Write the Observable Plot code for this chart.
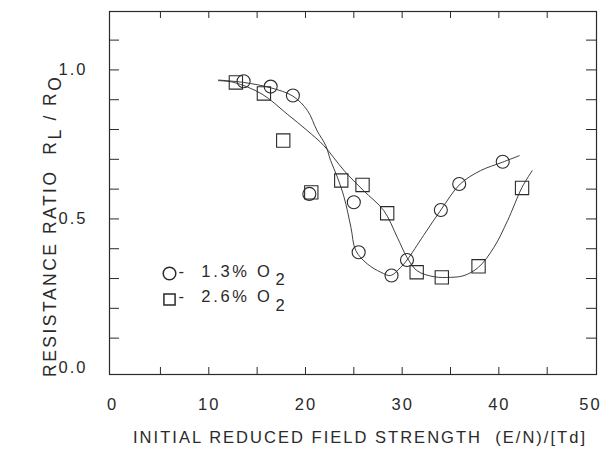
<!DOCTYPE html>
<html><head><meta charset="utf-8">
<script src="https://cdn.jsdelivr.net/npm/d3@7"></script>
<script src="https://cdn.jsdelivr.net/npm/@observablehq/plot@0.6"></script>
<style>
body{margin:0;background:#fff;}
#chart svg{display:block;}
#chart svg text{white-space:pre;}
</style>
</head><body><div id="chart"></div>
<script>
// Measured points: 1.3% O2 (circles)
const circleX = [13.6, 16.4, 18.7, 20.4, 25.0, 25.5, 28.9, 30.5, 34.0, 35.9, 40.4];
const circleY = [0.962, 0.944, 0.914, 0.584, 0.556, 0.388, 0.310, 0.362, 0.530, 0.617, 0.692];
// Measured points: 2.6% O2 (squares)
const squareX = [12.8, 15.7, 17.7, 20.6, 23.7, 25.9, 28.45, 31.5, 34.1, 37.9, 42.4];
const squareY = [0.958, 0.921, 0.763, 0.589, 0.629, 0.614, 0.519, 0.321, 0.304, 0.341, 0.604];
// Hand-drawn fit curves
const circleFitX = [11.0, 13.6, 16.4, 18.7, 20.2, 21.2, 22.1, 22.6, 23.3, 24.0, 24.7, 25.2, 26.4, 27.8, 28.8, 29.8, 30.5, 32.2, 34.0, 36.0, 38.1, 40.35, 42.1];
const circleFitY = [0.966, 0.958, 0.940, 0.912, 0.864, 0.796, 0.746, 0.696, 0.640, 0.572, 0.472, 0.394, 0.349, 0.321, 0.310, 0.336, 0.362, 0.444, 0.530, 0.617, 0.662, 0.690, 0.712];
const squareFitX = [11.0, 12.6, 15.5, 18.1, 20.2, 21.9, 24.0, 26.0, 28.1, 29.5, 30.5, 31.55, 33.3, 35.0, 36.4, 37.9, 39.5, 40.9, 42.4, 43.45];
const squareFitY = [0.964, 0.958, 0.919, 0.852, 0.796, 0.746, 0.662, 0.595, 0.528, 0.438, 0.371, 0.326, 0.306, 0.304, 0.310, 0.338, 0.405, 0.494, 0.606, 0.662];
// Axis ticks and labels
const xTickLabels = [0, 10, 20, 30, 40];
const xLastLabel = [50];
const xMinorTicks = [5, 10, 15, 20, 25, 30, 35, 40, 45];
const yTickLabels = [0.0, 0.5, 1.0];
const yMinorTicks = [0.1, 0.2, 0.3, 0.4, 0.5, 0.6, 0.7, 0.8, 0.9, 1.0, 1.1];
const legendLabels = ["-  1.3% O", "-  2.6% O"];
const legendSub = "2";
const xTitle = "INITIAL REDUCED FIELD STRENGTH  (E/N)/[Td]";
const yTitleParts = [["RESISTANCE RATIO  R", false], ["L", true], [" / R", false], ["O", true]];

const circles = circleX.map((x, i) => ({x, y: circleY[i]}));
const squares = squareX.map((x, i) => ({x, y: squareY[i]}));
const circleFit = circleFitX.map((x, i) => ({x, y: circleFitY[i]}));
const squareFit = squareFitX.map((x, i) => ({x, y: squareFitY[i]}));

const W = 606, H = 449, mT = 11, mB = 75, mL = 109, mR = 10;
const frameH = H - mT - mB, frameW = W - mL - mR;
const ink = "#2a2a2a";
const font = "'Liberation Sans', Arial, Helvetica, sans-serif";
const fs = 16.5;

const plot = Plot.plot({
  width: W, height: H,
  marginTop: mT, marginBottom: mB, marginLeft: mL, marginRight: mR,
  style: {fontFamily: font, color: ink, background: "#fff"},
  x: {domain: [-0.27, 50.1]},
  y: {domain: [-0.022, 1.196]},
  marks: [
    Plot.frame({stroke: ink, strokeWidth: 1.2}),
    Plot.tickX(xMinorTicks, {x: d => d, insetTop: frameH - 7, stroke: ink}),
    Plot.tickX(xMinorTicks, {x: d => d, insetBottom: frameH - 7, stroke: ink}),
    Plot.tickY(yMinorTicks, {y: d => d, insetRight: frameW - 10, stroke: ink}),
    Plot.tickY(yMinorTicks, {y: d => d, insetLeft: frameW - 10, stroke: ink}),
    Plot.axisX(xTickLabels, {tickSize: 0, tickPadding: 24, fontSize: fs, label: null, dx: 0.5, tickFormat: d => String(d)}),
    Plot.axisX(xLastLabel, {tickSize: 0, tickPadding: 24, fontSize: fs, label: null, dx: -5, tickFormat: d => String(d)}),
    Plot.axisY(yTickLabels, {tickSize: 0, tickPadding: 22, fontSize: fs, label: null, tickFormat: d3.format(".1f")}),
    Plot.line(circleFit, {x: "x", y: "y", curve: "catmull-rom", stroke: ink, strokeWidth: 0.9}),
    Plot.line(squareFit, {x: "x", y: "y", curve: "catmull-rom", stroke: ink, strokeWidth: 0.9}),
    Plot.dot(circles, {x: "x", y: "y", r: 6.5, stroke: ink, strokeWidth: 1.1, fill: "none"}),
    Plot.dot(squares, {x: "x", y: "y", r: 7.5, symbol: "square", stroke: ink, strokeWidth: 1.1, fill: "none"}),
    // legend
    Plot.dot([legendLabels[0]], {frameAnchor: "bottom-left", dx: 60, dy: -101, r: 6.3, stroke: ink, fill: "none"}),
    Plot.dot([legendLabels[1]], {frameAnchor: "bottom-left", dx: 60, dy: -75, r: 6.3, symbol: "square", stroke: ink, fill: "none"}),
    Plot.text([legendLabels[0]], {frameAnchor: "bottom-left", text: d => d, dx: 69, dy: -97.3, textAnchor: "start", fontSize: fs, fill: ink}),
    Plot.text([legendLabels[1]], {frameAnchor: "bottom-left", text: d => d, dx: 69, dy: -72.3, textAnchor: "start", fontSize: fs, fill: ink}),
    Plot.text([legendSub], {frameAnchor: "bottom-left", text: d => d, dx: 166, dy: -89.3, textAnchor: "start", fontSize: fs, fill: ink}),
    Plot.text([legendSub], {frameAnchor: "bottom-left", text: d => d, dx: 166, dy: -63.3, textAnchor: "start", fontSize: fs, fill: ink})
  ]
});
const svg = d3.select(plot);
svg.selectAll("g[aria-label='x-axis tick label'] text, g[aria-label='y-axis tick label'] text").attr("letter-spacing", 2);
svg.selectAll("g[aria-label='text'] text").attr("letter-spacing", 2.7);
svg.selectAll("g[aria-label='text'] text").filter(function() { return this.textContent === legendSub; }).attr("letter-spacing", 0);
svg.append("text")
  .attr("x", 359).attr("y", 443)
  .attr("text-anchor", "middle")
  .attr("font-family", font).attr("font-size", fs).attr("fill", ink)
  .attr("textLength", 452).attr("lengthAdjust", "spacing")
  .text(xTitle);
const yt = svg.append("text")
  .attr("transform", "translate(56,377) rotate(-90)")
  .attr("text-anchor", "start")
  .attr("font-family", font).attr("font-size", 17.5).attr("fill", ink)
  .attr("letter-spacing", 2.5);
yTitleParts.forEach(([t, sub], i) => {
  const ts = yt.append("tspan").text(t);
  if (sub) ts.attr("dy", 4.5); else if (i > 0) ts.attr("dy", -4.5);
});
document.getElementById("chart").appendChild(plot);
</script>
</body></html>
